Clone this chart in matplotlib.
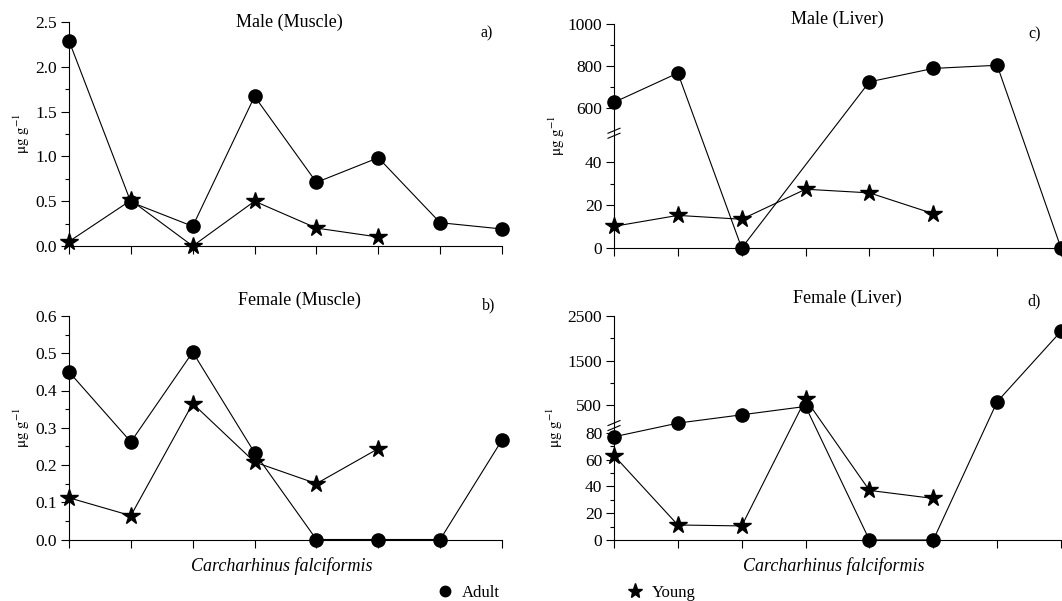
import numpy as np
import matplotlib
matplotlib.use("Agg")
import matplotlib.pyplot as plt
from matplotlib.lines import Line2D

plt.rcParams['font.family'] = ['Liberation Serif', 'DejaVu Serif']
plt.rcParams['mathtext.fontset'] = 'stix'

nan = np.nan

# eight sampled sharks (no tick labels in the original)
samples = list(range(8))

male_muscle_adult = [2.29, 0.49, 0.22, 1.67, 0.71, 0.985, 0.26, 0.19]
male_muscle_young = [0.05, 0.51, 0.0, 0.50, 0.20, 0.10, nan, nan]
female_muscle_adult = [0.45, 0.262, 0.503, 0.233, 0.0, 0.0, 0.0, 0.267]
female_muscle_young = [0.112, 0.064, 0.365, 0.208, 0.150, 0.244, nan, nan]
male_liver_adult = [626, 766, 0, nan, 724, 788, 803, 0]
male_liver_young = [10.1, 15.2, 13.4, 27.4, 25.7, 16.0, nan, nan]
female_liver_adult = [77, 104, 290, 477, 0, 0, 582, 2158]
female_liver_young = [63, 11.2, 10.5, 642, 37, 31, nan, nan]

ylabel = r'$\mathrm{\mu g\ g^{-1}}$'


def broken(L, U, a, b, gap):
    """piecewise linear scale: 0..L with slope a, then U.. with slope b"""
    def fwd(v):
        v = np.asarray(v, float)
        lo = v * a
        mid = L * a + (v - L) / (U - L) * gap
        hi = L * a + gap + (v - U) * b
        return np.where(v <= L, lo, np.where(v < U, mid, hi))

    def inv(h):
        h = np.asarray(h, float)
        h1, h2 = L * a, L * a + gap
        lo = h / a
        mid = L + (h - h1) / gap * (U - L)
        hi = U + (h - h2) / b
        return np.where(h <= h1, lo, np.where(h < h2, mid, hi))
    return fwd, inv


def draw(ax, adult, young):
    x = np.array(samples, float)
    for vals, mk, ms in ((adult, 'o', 9.5), (young, '*', 13)):
        v = np.array(vals, float)
        m = ~np.isnan(v)
        ax.plot(x[m], v[m], color='black', lw=0.8, marker=mk, ms=ms,
                clip_on=False, zorder=3)
    ax.set_xlim(0, 7)
    ax.set_xticks(samples)
    ax.set_xticklabels([])
    for s in ('top', 'right'):
        ax.spines[s].set_visible(False)
    for s in ('left', 'bottom'):
        ax.spines[s].set_linewidth(0.8)
    ax.tick_params(direction='out', length=5.5, width=0.8, labelsize=12.5, pad=3)
    ax.tick_params(which='minor', direction='out', length=3, width=0.8)
    ax.tick_params(axis='x', which='minor', length=0)


def break_marks(ax, yb, wpx, hpx):
    for off in (-2.5, 2.5):
        yc = yb + off / hpx
        ax.plot([-6 / wpx, 6 / wpx], [yc - 2.5 / hpx, yc + 2.5 / hpx],
                transform=ax.transAxes, color='black', lw=0.8, clip_on=False)


fig = plt.figure(figsize=(10.62, 6.01), dpi=100)
W, H = 1062, 601


def axes_px(left, right, top, bottom):
    return fig.add_axes([left / W, 1 - bottom / H, (right - left) / W, (bottom - top) / H])


ax_a = axes_px(69, 502, 22, 246)
ax_b = axes_px(69, 502, 316, 539.5)
ax_c = axes_px(614, 1061, 24, 248)
ax_d = axes_px(614, 1061, 316, 540)

# a) male muscle
draw(ax_a, male_muscle_adult, male_muscle_young)
ax_a.set_ylim(0, 2.5)
ax_a.set_yticks(np.arange(0, 2.51, 0.5))
ax_a.set_yticks(np.arange(0.25, 2.5, 0.5), minor=True)
ax_a.set_yticklabels(['%.1f' % t for t in np.arange(0, 2.51, 0.5)])

# b) female muscle
draw(ax_b, female_muscle_adult, female_muscle_young)
ax_b.set_ylim(0, 0.6)
ax_b.set_yticks(np.arange(0, 0.61, 0.1))
ax_b.set_yticks(np.arange(0.05, 0.6, 0.1), minor=True)
ax_b.set_yticklabels(['%.1f' % t for t in np.arange(0, 0.61, 0.1)])

# c) male liver, broken axis
fc, ic = broken(53.5, 481, 2.15, 0.21, 0.5)
ax_c.set_yscale('function', functions=(fc, ic))
draw(ax_c, male_liver_adult, male_liver_young)
ax_c.set_ylim(0, 1000)
ax_c.set_yticks([0, 20, 40, 600, 800, 1000])
ax_c.set_yticklabels(['0', '20', '40', '600', '800', '1000'])
ax_c.set_yticks([10, 30, 700, 900], minor=True)
break_marks(ax_c, float(fc(53.7) / fc(1000)), 447, 224)

# d) female liver, broken axis
fd, idd = broken(82, 83, 1.3375, 0.0446, 6)
ax_d.set_yscale('function', functions=(fd, idd))
draw(ax_d, female_liver_adult, female_liver_young)
ax_d.set_ylim(0, 2500)
ax_d.set_yticks([0, 20, 40, 60, 80, 500, 1500, 2500])
ax_d.set_yticklabels(['0', '20', '40', '60', '80', '500', '1500', '2500'])
ax_d.set_yticks([10, 30, 50, 70, 1000, 2000], minor=True)
break_marks(ax_d, float(fd(82.5) / fd(2500)) + 1.5 / 224, 447, 224)

# panel titles and letters
ax_a.text(0.51, 1.0, 'Male (Muscle)', transform=ax_a.transAxes, ha='center', va='center', fontsize=13)
ax_b.text(0.533, 1.072, 'Female (Muscle)', transform=ax_b.transAxes, ha='center', va='center', fontsize=13)
ax_c.text(0.499, 1.022, 'Male (Liver)', transform=ax_c.transAxes, ha='center', va='center', fontsize=13)
ax_d.text(0.521, 1.08, 'Female (Liver)', transform=ax_d.transAxes, ha='center', va='center', fontsize=13)
ax_a.text(0.965, 0.951, 'a)', transform=ax_a.transAxes, ha='center', va='center', fontsize=11.5)
ax_b.text(0.97, 1.049, 'b)', transform=ax_b.transAxes, ha='center', va='center', fontsize=11.5)
ax_c.text(0.94, 0.955, 'c)', transform=ax_c.transAxes, ha='center', va='center', fontsize=11.5)
ax_d.text(0.94, 1.064, 'd)', transform=ax_d.transAxes, ha='center', va='center', fontsize=11.5)

# y labels
for xp, yp in ((22, 134), (22, 428), (557, 136), (555, 428)):
    fig.text(xp / W, 1 - yp / H, ylabel, rotation=90, ha='center', va='center', fontsize=11)

# x labels
for xp in (282, 834):
    fig.text(xp / W, 1 - 566 / H, 'Carcharhinus falciformis', style='italic',
             ha='center', va='center', fontsize=13)

# legend
h_adult = Line2D([], [], color='black', marker='o', ls='none', ms=7.5)
h_young = Line2D([], [], color='black', marker='*', ls='none', ms=11)
for h, lab, xp in ((h_adult, 'Adult', 437), (h_young, 'Young', 627)):
    fig.legend(handles=[h], labels=[lab], loc='center left', bbox_to_anchor=(xp / W, 1 - 593 / H),
               frameon=False, borderpad=0, borderaxespad=0, handlelength=1.0, handletextpad=0.5,
               fontsize=12)

fig.savefig('out.png', dpi=100)
